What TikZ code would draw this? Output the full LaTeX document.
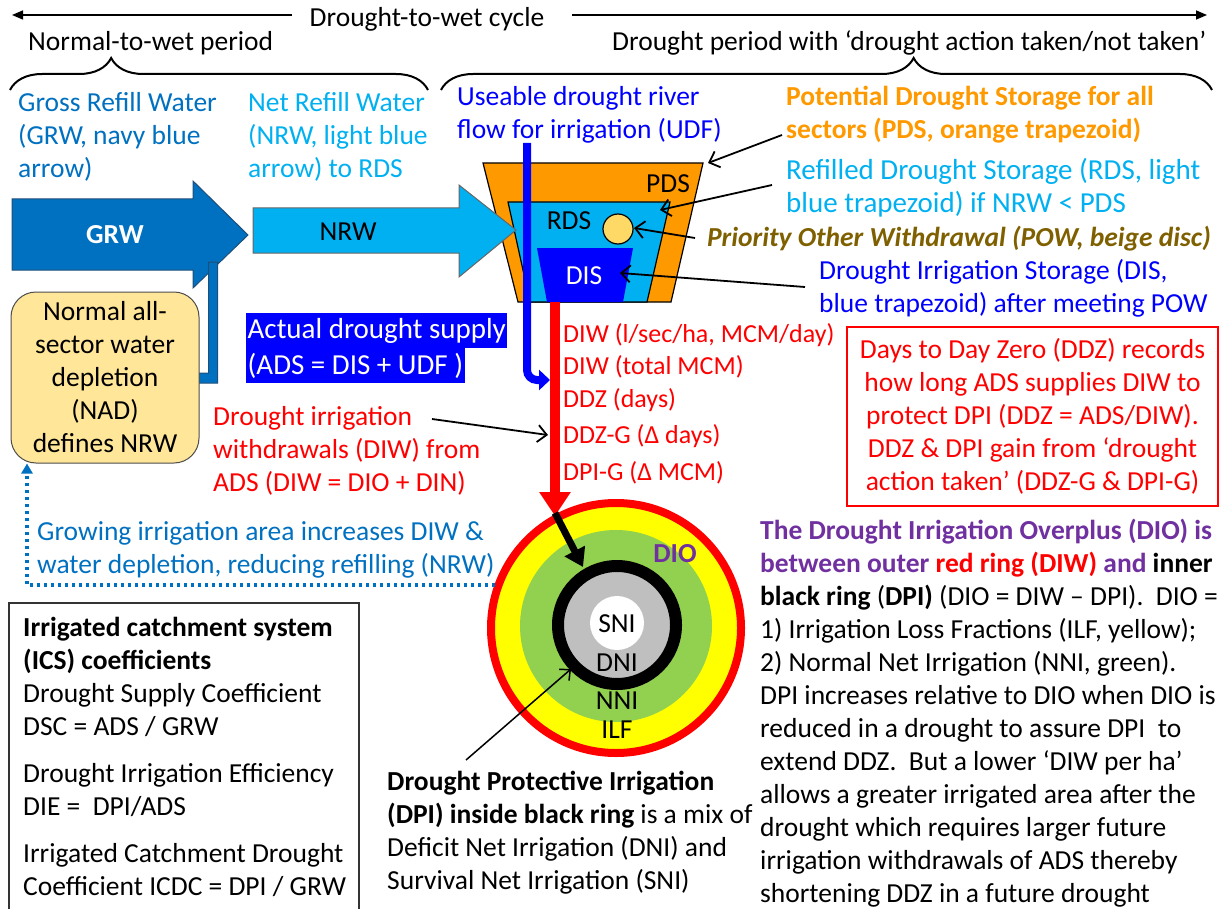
\documentclass[tikz,border=0pt]{standalone}
\usepackage{fontspec}
\setmainfont{Carlito}
\usetikzlibrary{arrows.meta,decorations.pathreplacing}
\definecolor{cNavy}{HTML}{0070C0}
\definecolor{cNavyD}{HTML}{1F4E79}
\definecolor{cLight}{HTML}{00B0F0}
\definecolor{cOrange}{HTML}{FF9900}
\definecolor{cBlue}{HTML}{0000FF}
\definecolor{cRed}{HTML}{FF0000}
\definecolor{cYellow}{HTML}{FFFF00}
\definecolor{cGreen}{HTML}{92D050}
\definecolor{cGray}{HTML}{BFBFBF}
\definecolor{cBeige}{HTML}{FFD966}
\definecolor{cNad}{HTML}{FFE699}
\definecolor{cPow}{HTML}{7F6000}
\definecolor{cPurple}{HTML}{7030A0}
\newcommand{\fsz}{\fontsize{27.5}{33}\selectfont}
\newcommand{\fszs}{\fontsize{26}{33}\selectfont}
\newcommand{\fszl}{\fontsize{29}{35}\selectfont}
\newcommand{\fszr}{\fontsize{29}{33}\selectfont}
\begin{document}
\begin{tikzpicture}[x=1pt,y=-1pt,
  every node/.style={inner sep=0pt,font=\fsz},
  lbl/.style={anchor=base west,align=left},
  redlbl/.style={anchor=base west,text=cRed,font=\fszs},
  ptr/.style={line width=1.8pt,-{Straight Barb[length=9pt,width=17pt]}},
  topln/.style={line width=1.5pt,-{Triangle[width=9pt,length=11pt]}},
  brc/.style={line width=2pt,decorate},
  blockarrow/.style={line width=1pt},
  adsbox/.style={fill=cBlue,text=white,anchor=north west,minimum height=35pt,inner xsep=1.5pt,font=\fszl},
  ringlbl/.style={anchor=center}]
\useasboundingbox (0,0) rectangle (1222,909);

% ---------- top cycle line and braces ----------
\node[anchor=base] (cyc) at (427,27) {Drought-to-wet cycle};
\coordinate (cycLs) at (292,15); \coordinate (cycLe) at (12,15);
\coordinate (cycRs) at (572,15); \coordinate (cycRe) at (1207,15);
\draw[topln] (cycLs) -- (cycLe);
\draw[topln] (cycRs) -- (cycRe);
\node[lbl] (nwp) at (28,51) {Normal-to-wet period};
\node[lbl] (dp) at (612,51) {Drought period with ‘drought action taken/not taken’};
\coordinate (bL1) at (10,90); \coordinate (bL2) at (428,90);
\coordinate (bR1) at (441,90); \coordinate (bR2) at (1212,90);
\draw[brc,decoration={brace,amplitude=32pt,aspect=0.242}] (bL1) -- (bL2);
\draw[brc,decoration={brace,amplitude=32pt,aspect=0.613}] (bR1) -- (bR2);

% ---------- refill texts (base = last line) ----------
\node[lbl,text=cNavy] (grwTxt) at (18,178) {Gross Refill Water\\(GRW, navy blue\\arrow)};
\node[lbl,text=cLight] (nrwTxt) at (248,178) {Net Refill Water\\(NRW, light blue\\arrow) to RDS};
\node[lbl,text=cBlue] (udfTxt) at (457,139) {Useable drought river\\flow for irrigation (UDF)};

% ---------- GRW arrow ----------
\draw[blockarrow,draw=cNavyD,fill=cNavy] (12,199) -- (193,199) -- (193,181) -- (248,235) -- (193,288) -- (193,270) -- (12,270) -- cycle;
\node[text=white] (grw) at (115,235) {\bfseries GRW};
% down elbow arrow to NAD
\draw[blockarrow,draw=cNavyD,fill=cNavy] (208.5,262) -- (217.5,262) -- (217.5,383) -- (182,383) -- (182,391) -- (168,378) -- (182,365) -- (182,373) -- (208.5,373) -- cycle;

% ---------- NAD box ----------
\node[draw=black!70,line width=1pt,fill=cNad,rounded corners=25pt,minimum width=188pt,minimum height=171pt,align=center] (nad) at (105,377.5) {Normal all-\\sector water\\depletion\\(NAD)\\defines NRW};

% ---------- trapezoids ----------
\draw[line width=1.2pt,fill=cOrange] (483,163) -- (703,163) -- (671,302) -- (518,302) -- cycle;
\draw[line width=1.2pt,fill=cLight] (508,202) -- (670,202) -- (647,302) -- (530,302) -- cycle;
\fill[cBlue] (537,248) -- (633,248) -- (623,302) -- (547,302) -- cycle;
\draw[line width=1.2pt,fill=cBeige] (618,229) circle[radius=15];
\node (pds) at (668,184) {PDS};
\node (rds) at (569,221) {RDS};
\node[text=white] (dis) at (584,276) {DIS};

% ---------- NRW arrow ----------
\draw[blockarrow,draw=black!60,fill=cLight] (253,208) -- (459,208) -- (459,185) -- (516,230) -- (459,277) -- (459,253) -- (253,253) -- cycle;
\node (nrw) at (348,232) {NRW};

% ---------- DIW red line ----------
\coordinate (diwTop) at (555,302);
\coordinate (diwTip) at (555,516);

% ---------- circle ----------
\coordinate (cc) at (616,628);
\draw[cRed,line width=8pt,fill=cYellow] (cc) circle[radius=125];
\fill[cGreen] (616,626) circle[radius=96];
\draw[line width=12pt,fill=cGray] (617,625) circle[radius=59];
\fill[white] (617,623) circle[radius=27];
\node[ringlbl] (sni) at (617,624) {SNI};
\node[ringlbl] (dni) at (617,663) {DNI};
\node[ringlbl] (nni) at (617,701) {NNI};
\node[ringlbl] (ilf) at (617,730) {ILF};
\node[ringlbl,text=cPurple] (dio) at (675,554) {\bfseries DIO};

\draw[cRed,line width=10pt,-{Triangle[width=30pt,length=24pt]}] (diwTop) -- (diwTip);
\coordinate (blkS) at (555,513); \coordinate (blkE) at (583,567);
\draw[line width=7pt,-{Triangle[width=22pt,length=18pt]}] (blkS) -- (blkE);

% ---------- UDF blue line ----------
\coordinate (udfTop) at (527,143);
\coordinate (udfBend) at (527,380);
\coordinate (udfTip) at (550,380);
\draw[cBlue,line width=8pt,rounded corners=10pt,-{Triangle[width=20pt,length=11pt]}] (udfTop) -- (udfBend) -- (udfTip);

% ---------- ADS box ----------
\node[adsbox] (ads1) at (246,313) {Actual drought supply};
\node[adsbox] (ads2) at (246,348) {(ADS = DIS + UDF )};

% ---------- red labels ----------
\node[redlbl] (l1) at (563,342) {DIW (l/sec/ha, MCM/day)};
\node[redlbl] (l2) at (563,374) {DIW (total MCM)};
\node[redlbl] (l3) at (563,407) {DDZ (days)};
\node[redlbl] (l4) at (563,443) {DDZ-G (Δ days)};
\node[redlbl] (l5) at (563,480) {DPI-G (Δ MCM)};
\node[lbl,text=cRed] (diwTxt) at (213,491) {Drought irrigation\\withdrawals (DIW) from\\ADS (DIW = DIO + DIN)};
\coordinate (diwPs) at (432,419); \coordinate (diwPe) at (548,435);
\draw[ptr] (diwPs) -- (diwPe);

% ---------- right texts ----------
\node[lbl,text=cOrange] (pdsTxt) at (786,139) {\bfseries Potential Drought Storage for all\\\bfseries sectors (PDS, orange trapezoid)};
\node[lbl,text=cLight,font=\fszr] (rdsTxt) at (786,213) {Refilled Drought Storage (RDS, light\\blue trapezoid) if NRW < PDS};
\node[anchor=base east,text=cPow] (powTxt) at (1211,247) {\bfseries\itshape Priority Other Withdrawal (POW, beige disc)};
\node[lbl,text=cBlue] (disTxt) at (819,312) {Drought Irrigation Storage (DIS,\\blue trapezoid) after meeting POW};
\coordinate (pdsPs) at (782,135); \coordinate (pdsPe) at (708,163);
\coordinate (rdsPs) at (772,185); \coordinate (rdsPe) at (660,210);
\coordinate (powPs) at (695,238); \coordinate (powPe) at (634,228);
\coordinate (disPs) at (805,287); \coordinate (disPe) at (620,273);
\draw[ptr] (pdsPs) -- (pdsPe);
\draw[ptr] (rdsPs) -- (rdsPe);
\draw[ptr] (powPs) -- (powPe);
\draw[ptr] (disPs) -- (disPe);

% ---------- red box ----------
\node[draw=cRed,line width=1.3pt,text=cRed,minimum width=371pt,minimum height=179pt,align=center] (ddz) at (1032.5,416.5) {Days to Day Zero (DDZ) records\\how long ADS supplies DIW to\\protect DPI (DDZ = ADS/DIW).\\DDZ \& DPI gain from ‘drought\\action taken’ (DDZ-G \& DPI-G)};

% ---------- growing text and dotted line ----------
\node[lbl,text=cNavy] (grow) at (37,573) {Growing irrigation area increases DIW \&\\water depletion, reducing refilling (NRW)};
\coordinate (dotS) at (495,585); \coordinate (dotC) at (27,585);
\draw[cNavy,line width=3.5pt,dash pattern=on 3.5pt off 3.5pt,-{Triangle[width=11pt,length=10pt]}] (dotS) -- (dotC) -- (nad.south -| dotC);

% ---------- DPI text ----------
\node[lbl] (dpiTxt) at (387,889) {\bfseries Drought Protective Irrigation\\{\bfseries (DPI) inside black ring} is a mix of\\Deficit Net Irrigation (DNI) and\\Survival Net Irrigation (SNI)};
\coordinate (dpiPs) at (466,760); \coordinate (dpiPe) at (571,669);
\draw[line width=1.5pt,-{Straight Barb[length=8pt,width=15pt]}] (dpiPs) -- (dpiPe);

% ---------- DIO paragraph ----------
\node[lbl] (dioTxt) at (760,902) {%
\textcolor{cPurple}{\bfseries The Drought Irrigation Overplus (DIO) is}\\
\textcolor{cPurple}{\bfseries between outer }\textcolor{cRed}{\bfseries red ring (DIW)}\textcolor{cPurple}{\bfseries\ and }{\bfseries inner}\\
{\bfseries black ring} ({\bfseries DPI)} (DIO = DIW – DPI).\ \ DIO =\\
1) Irrigation Loss Fractions (ILF, yellow);\\
2) Normal Net Irrigation (NNI, green).\\
DPI increases relative to DIO when DIO is\\
reduced in a drought to assure DPI\ \ to\\
extend DDZ.\ \ But a lower ‘DIW per ha’\\
allows a greater irrigated area after the\\
drought which requires larger future\\
irrigation withdrawals of ADS thereby\\
shortening DDZ in a future drought};

% ---------- ICS box ----------
\draw[line width=1.2pt,draw=black!80] (9,912) -- (9,603) -- (359,603) -- (359,912);
\node[lbl] (ics) at (23,895) {\bfseries Irrigated catchment system\\\bfseries (ICS) coefficients\\Drought Supply Coefficient\\DSC = ADS / GRW\\[14pt]Drought Irrigation Efficiency\\DIE =\ \ DPI/ADS\\[14pt]Irrigated Catchment Drought\\Coefficient ICDC = DPI / GRW};
\end{tikzpicture}
\end{document}
